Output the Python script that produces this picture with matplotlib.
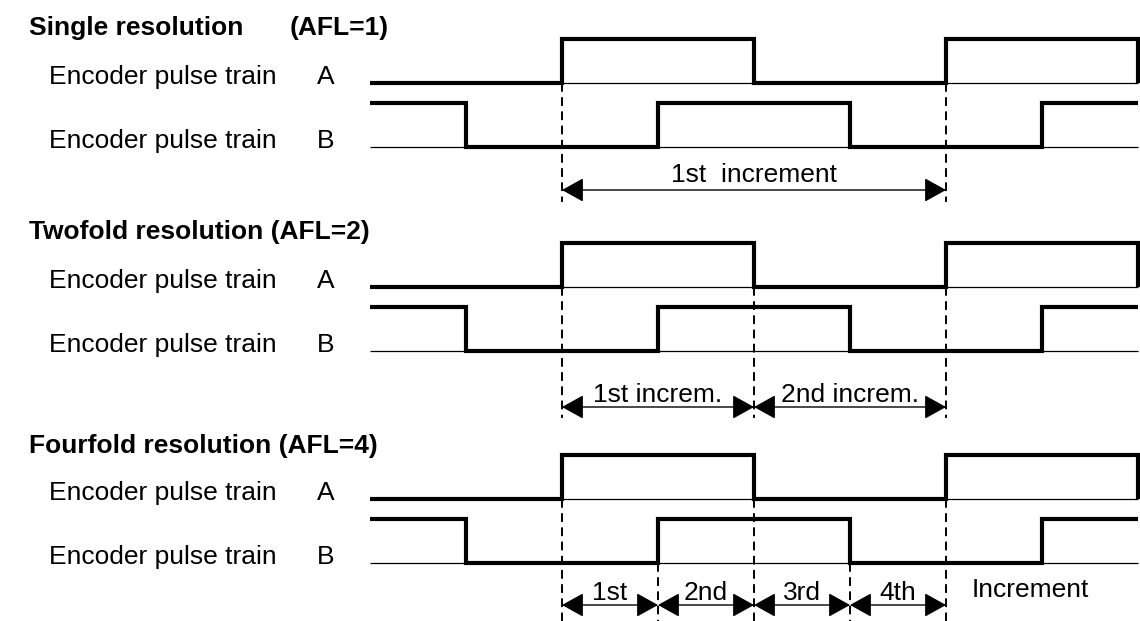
#!/usr/bin/env python3

import matplotlib.pyplot as plt

# Time axis in quarter periods of the encoder signal.
TIME = [-2, -1, 0, 1, 2, 3, 4, 5, 6]
# Signal level from each time point on (1 = high, 0 = low).
TRAIN_A = [0, 0, 1, 1, 0, 0, 1, 1, 0]
TRAIN_B = [1, 0, 0, 1, 1, 0, 0, 1, 1]

TITLES = ["Single resolution", "Twofold resolution", "Fourfold resolution"]
AFL = [1, 2, 4]
TRAIN_NAMES = ["A", "B"]

# Edges that bound the increments for each resolution.
INCREMENT_EDGES = [[0, 4], [0, 2, 4], [0, 1, 2, 3, 4]]
INCREMENT_LABELS = [
    ["1st  increment"],
    ["1st increm.", "2nd increm."],
    ["1st", "2nd", "3rd", "4th"],
]

# Layout (figure pixels, y downwards).
W, H = 1140, 621
X_ZERO = 562          # pixel of t = 0
UNIT = 96.0           # pixels per quarter period
BLOCK_TOP = [39, 243, 455]
TITLE_BASE = [35, 239, 453]
ARROW_Y = [190, 407, 605]
INC_LABEL_BASE = [182, 402, 600]
DASH_BOTTOM = [202, 418, 621]
AMP = 44              # pulse height
B_OFFSET = 64         # distance from A high to B high
FS = 19


def px(x):
    # convert a figure pixel column into time units
    return (x - X_ZERO) / UNIT


def draw_train(ax, levels, y_high):
    y_low = y_high + AMP
    ys = [y_low - lv * AMP for lv in levels]
    # thin base line under the whole train
    ax.plot([TIME[0], TIME[-1]], [y_low, y_low], color="black", lw=0.9,
            solid_capstyle="butt")
    ax.step(TIME, ys, where="post", color="black", lw=3.0,
            solid_joinstyle="miter", solid_capstyle="butt")


def main():
    plt.rcParams["font.family"] = ["Liberation Sans", "DejaVu Sans"]
    fig = plt.figure(figsize=(W / 100, H / 100), dpi=100, facecolor="white")
    ax = fig.add_axes([0, 0, 1, 1])
    ax.set_xlim(px(0), px(W))
    ax.set_ylim(H, 0)
    ax.axis("off")

    for i, top in enumerate(BLOCK_TOP):
        # block title
        if AFL[i] == 1:
            ax.text(px(29), TITLE_BASE[i], TITLES[i], fontsize=FS,
                    fontweight="bold", va="baseline")
            ax.text(px(290), TITLE_BASE[i], f"(AFL={AFL[i]})", fontsize=FS,
                    fontweight="bold", va="baseline")
        else:
            ax.text(px(29), TITLE_BASE[i], f"{TITLES[i]} (AFL={AFL[i]})",
                    fontsize=FS, fontweight="bold", va="baseline")

        # both pulse trains with their labels
        for j, levels in enumerate([TRAIN_A, TRAIN_B]):
            y_high = top + j * B_OFFSET
            draw_train(ax, levels, y_high)
            ax.text(px(49), y_high + AMP + 1, "Encoder pulse train",
                    fontsize=FS, va="baseline")
            ax.text(px(317), y_high + AMP + 1, TRAIN_NAMES[j],
                    fontsize=FS, va="baseline")

        # dashed markers at the counted edges
        edges = INCREMENT_EDGES[i]
        for t in edges:
            k = TIME.index(t)
            if TRAIN_A[k] != TRAIN_A[k - 1]:
                y_start = top + AMP
            else:
                y_start = top + B_OFFSET + AMP
            ax.plot([t, t], [y_start, DASH_BOTTOM[i]], color="black",
                    lw=1.4, linestyle=(0, (4.5, 2.8)))

        # arrows and labels of the increments
        for k, label in enumerate(INCREMENT_LABELS[i]):
            t0, t1 = edges[k], edges[k + 1]
            ax.annotate("", xy=(t1, ARROW_Y[i]), xytext=(t0, ARROW_Y[i]),
                        arrowprops=dict(
                            arrowstyle="<|-|>,head_length=1.35,head_width=0.75",
                            mutation_scale=10, shrinkA=0, shrinkB=0,
                            lw=1.0, color="black"))
            ax.text((t0 + t1) / 2, INC_LABEL_BASE[i], label, fontsize=FS,
                    ha="center", va="baseline")

    # free label after the last quarter of the fourfold block
    ax.text(px(972), 597, "Increment", fontsize=FS, va="baseline")

    fig.savefig("out.png", dpi=100, facecolor="white")


if __name__ == "__main__":
    main()
